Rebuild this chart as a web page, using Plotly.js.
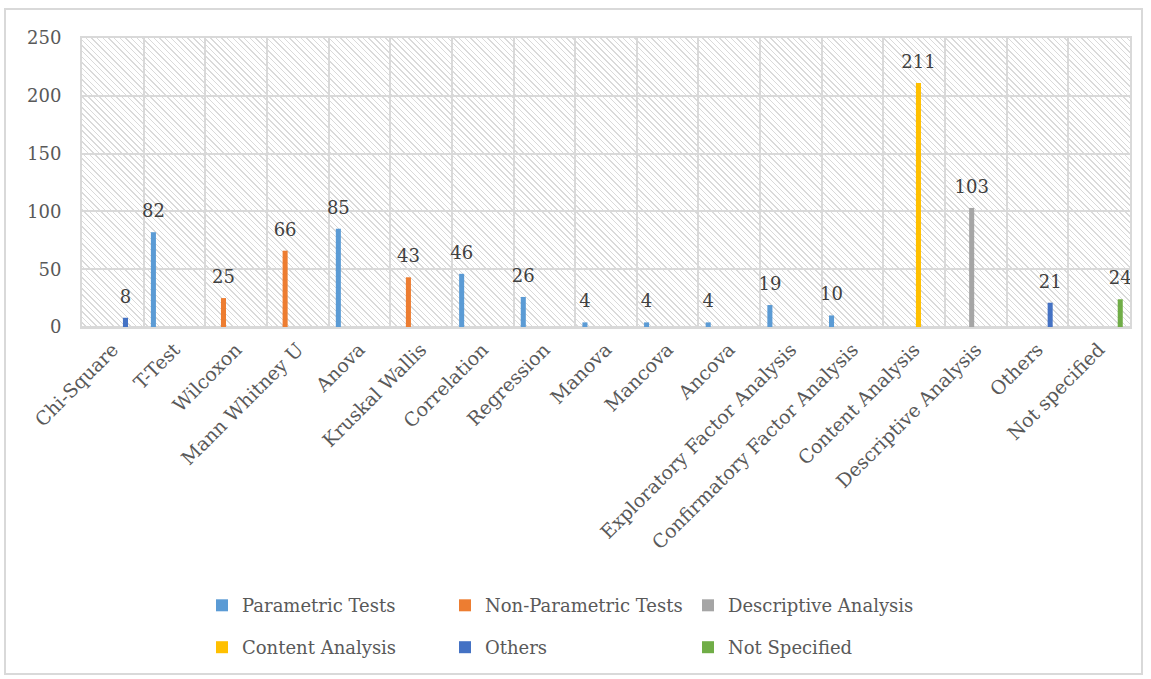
<!DOCTYPE html>
<html>
<head>
<meta charset="utf-8">
<script src="https://cdn.plot.ly/plotly-3.0.1.min.js"></script>
<style>
  html, body { margin: 0; padding: 0; background: #ffffff; }
  #wrap { position: relative; width: 1151px; height: 679px; background: #ffffff; }
  #frame { position: absolute; left: 4px; top: 8px; width: 1139px; height: 667px; border: 2px solid #d9d9d9; box-sizing: border-box; }
  #hatch { position: absolute; left: 82px; top: 38px; width: 1048px; height: 291px;
           background: repeating-linear-gradient(45deg, #dadada 0px, #dadada 1px, #ffffff 1px, #ffffff 4px); }
  #chart { position: absolute; left: 0; top: 0; width: 1151px; height: 679px; }
</style>
</head>
<body>
<div id="wrap">
  <div id="frame"></div>
  <div id="hatch"></div>
  <div id="chart"></div>
</div>
<script>
const categories = ["Chi-Square", "T-Test", "Wilcoxon", "Mann Whitney U", "Anova", "Kruskal Wallis",
  "Correlation", "Regression", "Manova", "Mancova", "Ancova", "Exploratory Factor Analysis",
  "Confirmatory Factor Analysis", "Content Analysis", "Descriptive Analysis", "Others", "Not specified"];

const seriesNames = ["Parametric Tests", "Non-Parametric Tests", "Descriptive Analysis",
  "Content Analysis", "Others", "Not Specified"];

const parametric    = [null, 82, null, null, 85, null, 46, 26, 4, 4, 4, 19, 10, null, null, null, null];
const nonParametric = [null, null, 25, 66, null, 43, null, null, null, null, null, null, null, null, null, null, null];
const descriptive   = [null, null, null, null, null, null, null, null, null, null, null, null, null, null, 103, null, null];
const content       = [null, null, null, null, null, null, null, null, null, null, null, null, null, 211, null, null, null];
const others        = [8, null, null, null, null, null, null, null, null, null, null, null, null, null, null, 21, null];
const notSpecified  = [null, null, null, null, null, null, null, null, null, null, null, null, null, null, null, null, 24];

const seriesValues = [parametric, nonParametric, descriptive, content, others, notSpecified];
const colors = ["#5B9BD5", "#ED7D31", "#A5A5A5", "#FFC000", "#4472C4", "#70AD47"];
const legendFor = ["legend", "legend", "legend", "legend2", "legend2", "legend2"];

const FONT = "DejaVu Serif, Liberation Serif, serif";

const traces = seriesValues.map((vals, i) => ({
  type: "bar",
  name: seriesNames[i],
  x: categories,
  y: vals,
  marker: { color: colors[i] },
  text: vals.map(v => (v === null ? "" :
    "<span style='font-size:18px'>" + String(v) + "</span><br>&nbsp;")),
  textposition: "outside",
  constraintext: "none",
  cliponaxis: false,
  textfont: { family: FONT, size: 10, color: "#404040" },
  legend: legendFor[i],
  hoverinfo: "x+y+name"
}));

const legendBase = {
  orientation: "h",
  xanchor: "left",
  yanchor: "top",
  x: 0.1145,
  entrywidth: 198,
  font: { family: FONT, size: 18, color: "#595959" },
  bgcolor: "rgba(0,0,0,0)",
  itemclick: false
};

const layout = {
  width: 1151,
  height: 679,
  margin: { l: 82, r: 21, t: 38, b: 350 },
  paper_bgcolor: "rgba(0,0,0,0)",
  plot_bgcolor: "rgba(0,0,0,0)",
  barmode: "group",
  bargap: 0.18,
  bargroupgap: 0.4,
  showlegend: true,
  font: { family: FONT, size: 18, color: "#595959" },
  xaxis: {
    type: "category",
    tickson: "boundaries",
    showgrid: true,
    gridcolor: "#d9d9d9",
    gridwidth: 2,
    showline: true,
    mirror: true,
    linecolor: "#d9d9d9",
    linewidth: 2,
    ticks: "",
    tickangle: -45,
    tickfont: { family: FONT, size: 19, color: "#595959" },
    ticklabelstandoff: 2,
    fixedrange: true
  },
  yaxis: {
    range: [0, 250],
    dtick: 50,
    showgrid: true,
    gridcolor: "#d9d9d9",
    gridwidth: 2,
    zeroline: true,
    zerolinecolor: "#d9d9d9",
    zerolinewidth: 2,
    showline: true,
    mirror: true,
    linecolor: "#d9d9d9",
    linewidth: 2,
    ticks: "",
    tickfont: { family: FONT, size: 18, color: "#595959" },
    ticklabelstandoff: 15,
    fixedrange: true
  },
  legend: Object.assign({}, legendBase, { y: -0.90 }),
  legend2: Object.assign({}, legendBase, { y: -1.045 })
};

Plotly.newPlot("chart", traces, layout, { displayModeBar: false });
</script>
</body>
</html>
